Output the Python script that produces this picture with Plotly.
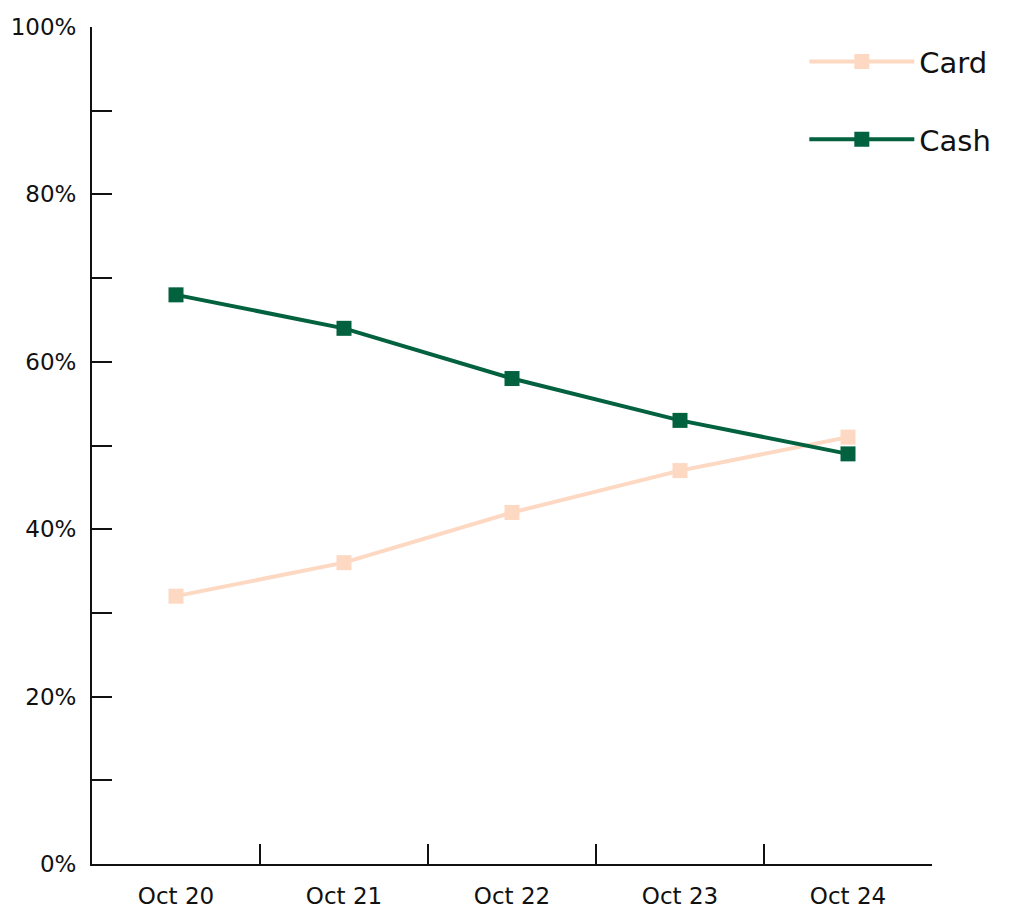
import plotly.graph_objects as go

categories = ["Oct 20", "Oct 21", "Oct 22", "Oct 23", "Oct 24"]
card = [32, 36, 42, 47, 51]
cash = [68, 64, 58, 53, 49]
y_tick_vals = [0, 10, 20, 30, 40, 50, 60, 70, 80, 90, 100]
y_tick_text = ["0%", "", "20%", "", "40%", "", "60%", "", "80%", "", "100%"]

CARD_COLOR = "#FDD8C2"
CASH_COLOR = "#02613F"
FONT = "DejaVu Sans"

fig = go.Figure()
fig.add_trace(go.Scatter(
    x=categories, y=card, name="Card", mode="lines+markers",
    line=dict(color=CARD_COLOR, width=4),
    marker=dict(symbol="square", size=15, color=CARD_COLOR),
    legendgroup="card",
))
fig.add_trace(go.Scatter(
    x=categories, y=cash, name="Cash", mode="lines+markers",
    line=dict(color=CASH_COLOR, width=4),
    marker=dict(symbol="square", size=15, color=CASH_COLOR),
    legendgroup="cash",
))

fig.update_layout(
    width=1014, height=908,
    margin=dict(l=92, r=82, t=27, b=44),
    plot_bgcolor="white", paper_bgcolor="white",
    font=dict(family=FONT, size=23, color="#111111"),
    showlegend=True,
    legend=dict(
        x=0.848, y=0.989, xanchor="left", yanchor="top",
        font=dict(size=29, color="#111111"),
        itemwidth=105,
        traceorder="grouped",
        tracegroupgap=37,
        bgcolor="rgba(0,0,0,0)",
    ),
    xaxis=dict(
        type="category",
        range=[-0.5, 4.5],
        automargin=False,
        showline=True, linecolor="#111111", linewidth=2,
        ticks="inside", tickson="boundaries", ticklen=20, tickwidth=2, tickcolor="#111111",
        showgrid=False, zeroline=False,
        ticklabelstandoff=10,
    ),
    yaxis=dict(
        range=[0, 100],
        automargin=False,
        tickvals=y_tick_vals, ticktext=y_tick_text,
        showline=True, linecolor="#111111", linewidth=2,
        ticks="inside", ticklen=20, tickwidth=2, tickcolor="#111111",
        showgrid=False, zeroline=False,
        ticklabelstandoff=9,
    ),
)

fig.write_html(
    "out.html",
    config={"displayModeBar": False},
    post_script=(
        "document.body.style.margin='0';"
        "document.body.style.overflow='hidden';"
        "document.documentElement.style.overflow='hidden';"
    ),
)
